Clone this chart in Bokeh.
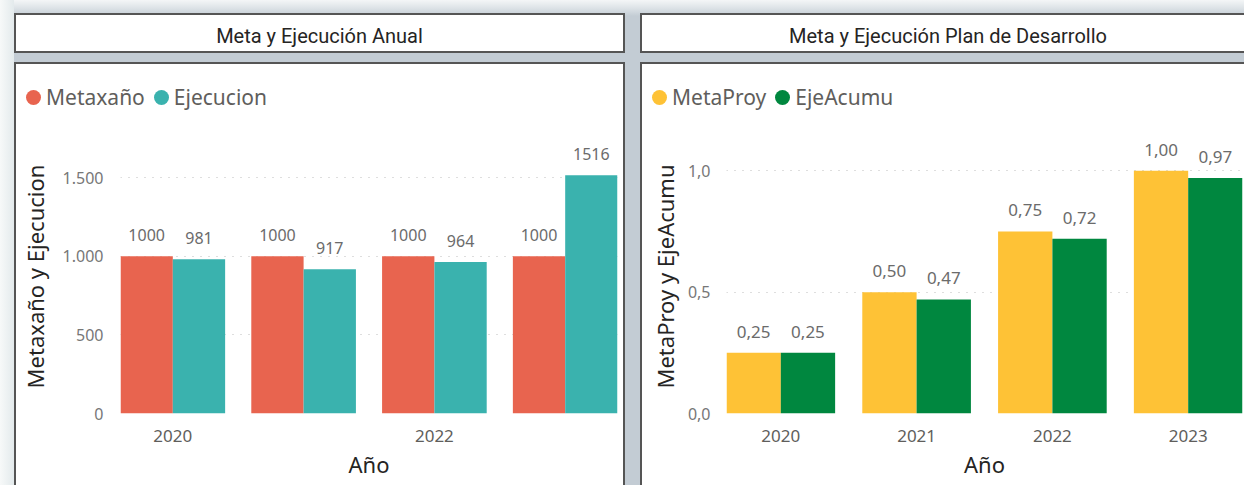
from bokeh.plotting import figure
from bokeh.models import (Range1d, FixedTicker, CustomJSTickFormatter,
                          ColumnDataSource, Div, Spacer)
from bokeh.layouts import row, column
from bokeh.transform import dodge
from bokeh.embed import file_html
from bokeh.resources import INLINE

# ---------------- data ----------------
years = ["2020", "2021", "2022", "2023"]
left_shown_years = ["2020", "2022"]
meta_anual = [1000, 1000, 1000, 1000]
ejecucion = [981, 917, 964, 1516]
meta_proy = [0.25, 0.50, 0.75, 1.00]
eje_acumu = [0.25, 0.47, 0.72, 0.97]
left_yticks = [0, 500, 1000, 1500]
right_yticks = [0.0, 0.5, 1.0]

title_left = "Meta y Ejecución Anual"
title_right = "Meta y Ejecución Plan de Desarrollo"

# ---------------- style ----------------
RED = "#E8644F"
TEAL = "#3AB2AE"
YELLOW = "#FEC236"
GREEN = "#00873F"
BG = "#C3CCD4"
BORDER = "#555555"
FONT = "Noto Sans"
TFONT = "Roboto"


def es_thousands():
    return CustomJSTickFormatter(code="""
        const v = Math.round(tick);
        if (v >= 1000) { return Math.floor(v/1000) + '.' + String(v % 1000).padStart(3, '0'); }
        return String(v);
    """)


def es_decimal():
    return CustomJSTickFormatter(code="return tick.toFixed(1).replace('.', ',');")


def year_fmt(labels):
    return CustomJSTickFormatter(args=dict(labels=labels),
                                 code="return labels[Math.round(tick)] || '';")


def bar(w, h):
    return Spacer(width=w, height=h, margin=0, styles={"background-color": BORDER})


def gap(w, h, styles=None):
    return Spacer(width=w, height=h, margin=0, styles=styles or {})


def title_div(text, w, extra):
    st = {"background-color": "white", "box-sizing": "border-box",
          "font-family": TFONT, "font-size": "20px", "font-weight": "normal",
          "color": "#252423",
          "text-align": "center", "line-height": "36px", "padding-top": "3px",
          "overflow": "hidden", "white-space": "nowrap"}
    st.update(extra)
    return Div(text=text, width=w, height=40, margin=0, styles=st)


def legend_div(items, w, h):
    parts = []
    for i, (name, col) in enumerate(items):
        ml = "10px" if i == 0 else "9px"
        parts.append(
            f'<span style="display:inline-block;width:15px;height:15px;border-radius:50%;'
            f'background:{col};margin-left:{ml};margin-right:5px;"></span>'
            f'<span style="color:#605e5c;">{name}</span>')
    html = ('<div style="display:flex;align-items:center;height:34px;margin-top:16px;'
            f'font-family:{FONT};font-size:21px;white-space:nowrap;">' + "".join(parts) + "</div>")
    return Div(text=html, width=w, height=h, margin=0,
               styles={"background-color": "white", "overflow": "hidden"})


def chart(vals_a, vals_b, col_a, col_b, labels_a, labels_b, ymax, yticks,
          yfmt, xticks, w, h, mleft, mright, ylabel, lbl_size, ystandoff, ylab_standoff):
    n = len(years)
    src = ColumnDataSource(dict(x=list(range(n)), a=vals_a, b=vals_b,
                                la=labels_a, lb=labels_b))
    p = figure(width=w, height=h, x_range=Range1d(-0.4, n - 1 + 0.4), y_range=Range1d(0, ymax),
               output_backend="svg", toolbar_location=None, margin=0,
               min_border_left=mleft, min_border_right=mright,
               min_border_top=15, min_border_bottom=h - 15 - 274,
               outline_line_color=None, background_fill_color="white",
               border_fill_color="white", styles={"background-color": "white"})
    p.vbar(x=dodge("x", -0.2, range=p.x_range), top="a", width=0.4, source=src,
           fill_color=col_a, line_color=None)
    p.vbar(x=dodge("x", 0.2, range=p.x_range), top="b", width=0.4, source=src,
           fill_color=col_b, line_color=None)
    for col, key in (("la", "a"), ("lb", "b")):
        off = -0.2 if key == "a" else 0.2
        p.text(x=dodge("x", off, range=p.x_range), y=key, text=col, source=src,
               text_align="center", text_baseline="middle", y_offset=-21,
               text_font={"value": FONT}, text_font_size={"value": lbl_size},
               text_color="#6b6b6b")

    # axes
    p.xaxis.ticker = FixedTicker(ticks=xticks)
    p.xaxis.formatter = year_fmt(years)
    p.yaxis.ticker = FixedTicker(ticks=yticks)
    p.ygrid.ticker = FixedTicker(ticks=yticks)
    p.yaxis.formatter = yfmt
    for ax in (p.xaxis[0], p.yaxis[0]):
        ax.axis_line_color = None
        ax.major_tick_line_color = None
        ax.minor_tick_line_color = None
        ax.major_tick_out = 0
        ax.major_tick_in = 0
        ax.axis_label_text_font = FONT
        ax.axis_label_text_font_style = "normal"
        ax.axis_label_text_font_size = "22px"
        ax.axis_label_text_color = "#252423"
        ax.major_label_text_font = FONT
    p.xaxis.axis_label = "Año"
    p.xaxis.major_label_text_font_size = "17px"
    p.xaxis.major_label_text_color = "#605e5c"
    p.xaxis.major_label_standoff = 16
    p.xaxis.axis_label_standoff = 4
    p.yaxis.axis_label = ylabel
    p.yaxis.major_label_text_font_size = "16px"
    p.yaxis.major_label_text_color = "#777777"
    p.yaxis.major_label_standoff = ystandoff
    p.yaxis.axis_label_standoff = ylab_standoff
    p.xgrid.grid_line_color = None
    p.ygrid.grid_line_color = "#bdbdbd"
    p.ygrid.grid_line_dash = "1 7"
    p.ygrid.grid_line_width = 1
    return p


bord = "2px solid " + BORDER
left_title = title_div(title_left, 611, {"border": bord})
right_title = title_div(title_right, 604, {"border-top": bord, "border-left": bord,
                                           "border-bottom": bord, "padding-left": "10px"})

PANEL_H = 421   # visible white area height below the top border
LEG_H = 60
left_legend = legend_div([("Metaxaño", RED), ("Ejecucion", TEAL)], 607, LEG_H)
right_legend = legend_div([("MetaProy", YELLOW), ("EjeAcumu", GREEN)], 602, LEG_H)

left_chart = chart(meta_anual, ejecucion, RED, TEAL,
                   [str(v) for v in meta_anual], [str(v) for v in ejecucion],
                   1743, left_yticks, es_thousands(),
                   [years.index(y) for y in left_shown_years],
                   607, PANEL_H - LEG_H, 104, 6, "Metaxaño y Ejecucion", "16px", 17, 10)

right_chart = chart(meta_proy, eje_acumu, YELLOW, GREEN,
                    [f"{v:.2f}".replace(".", ",") for v in meta_proy],
                    [f"{v:.2f}".replace(".", ",") for v in eje_acumu],
                    1.129, right_yticks, es_decimal(),
                    list(range(len(years))),
                    602, PANEL_H - LEG_H, 84, 2, "MetaProy y EjeAcumu", "17px", 16, 5)

left_panel = row(bar(2, PANEL_H + 2),
                 column(bar(607, 2), left_legend, left_chart, spacing=0, margin=0),
                 bar(2, PANEL_H + 2), spacing=0, margin=0)
right_panel = row(bar(2, PANEL_H + 2),
                  column(bar(602, 2), right_legend, right_chart, spacing=0, margin=0),
                  spacing=0, margin=0)

left_col = column(gap(611, 13), left_title, gap(611, 9), left_panel, spacing=0, margin=0)
right_col = column(gap(604, 13), right_title, gap(604, 9), right_panel, spacing=0, margin=0)
root = row(gap(14, 485, {"background": "linear-gradient(90deg, #f7f9f9 0px, #e3eaec 14px)"}),
           left_col, gap(15, 485), right_col, spacing=0, margin=0,
           styles={"background": "linear-gradient(180deg, #f4f6f7 0px, #dde3e7 8px, "
                                 + BG + " 16px, " + BG + " 100%)"})

open("out.html", "w").write(file_html(root, INLINE))
